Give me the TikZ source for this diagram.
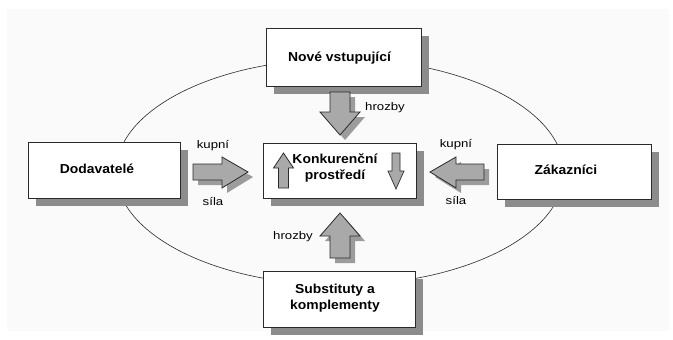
\documentclass[tikz,border=0pt]{standalone}
\usepackage{fontspec}
\setmainfont{Liberation Sans}
\definecolor{bgc}{HTML}{FAFAFA}
\definecolor{shadowc}{HTML}{8C8C8C}
\definecolor{arrowc}{HTML}{A9A9A9}
\definecolor{arrowsh}{HTML}{9C9C9C}
\definecolor{linec}{HTML}{2A2A2A}
\newcommand{\bxtext}[1]{\scalebox{1.07}[1]{#1}}
\newcommand{\smtext}[1]{\scalebox{1.2}[1]{#1}}
\begin{document}
\begin{tikzpicture}[x=1pt,y=-1pt,
  box/.style={draw=linec, line width=0.9pt, fill=white, inner sep=0pt,
    preaction={fill=shadowc, transform canvas={shift={(8pt,-8pt)}}}},
  boxtext/.style={inner sep=0pt, align=center, font=\fontsize{13}{16}\selectfont\bfseries},
  smlabel/.style={inner sep=0pt, font=\fontsize{11}{13}\selectfont},
  blockarrow/.style={draw=linec, line width=0.8pt, fill=arrowc, line join=miter,
    preaction={fill=arrowsh, transform canvas={shift={(5pt,-5pt)}}}},
  innerarrow/.style={draw=linec, line width=0.7pt, fill=arrowc, line join=miter},
  ring/.style={draw=linec, line width=0.6pt}
]
\useasboundingbox (0,0) rectangle (673,340);
\fill[bgc] (7,9) rectangle (669,331);

% ellipse behind everything
\draw[ring] (340,172) ellipse [x radius=224, y radius=113];

% boxes
\node[box, minimum width=155pt, minimum height=58pt] (top) at (343.5,57) {};
\node[box, minimum width=152pt, minimum height=56pt] (left) at (104,170) {};
\node[box, minimum width=153pt, minimum height=55pt] (center) at (339.5,170.5) {};
\node[box, minimum width=154pt, minimum height=55pt] (right) at (574,171.5) {};
\node[box, minimum width=152pt, minimum height=56pt] (bottom) at (339,299) {};

% box texts
\node[boxtext] (ttop) at (339.5,58) {\bxtext{Nové vstupující}};
\node[boxtext] (tleft) at (97,169) {\bxtext{Dodavatelé}};
\node[boxtext] (tright) at (566,170) {\bxtext{Zákazníci}};
\node[boxtext] (tcenter) at (335,168) {\bxtext{Konkurenční}\\\bxtext{prostředí}};
\node[boxtext] (tbottom) at (335,298) {\bxtext{Substituty a}\\\bxtext{komplementy}};

% block arrows
\draw[blockarrow] (330,92) -- (350,92) -- (350,112) -- (360,112) -- (340,135) -- (320,112) -- (330,112) -- cycle;
\draw[blockarrow] (330,258) -- (350,258) -- (350,236) -- (360,236) -- (340,213) -- (320,236) -- (330,236) -- cycle;
\draw[blockarrow] (193,164) -- (222,164) -- (222,157) -- (248,172) -- (222,188) -- (222,180) -- (193,180) -- cycle;
\draw[blockarrow] (484,164) -- (456,164) -- (456,157) -- (430,172) -- (456,188) -- (456,180) -- (484,180) -- cycle;

% arrows inside the centre box
\draw[innerarrow] (278.5,188) -- (288.5,188) -- (288.5,168) -- (293.5,168) -- (283.5,153) -- (273.5,168) -- (278.5,168) -- cycle;
\draw[innerarrow] (392,153) -- (400,153) -- (400,171) -- (404,171) -- (396,189) -- (388,171) -- (392,171) -- cycle;

% small labels
\node[smlabel] (h1) at (385,108) {\smtext{hrozby}};
\node[smlabel] (h2) at (293,237) {\smtext{hrozby}};
\node[smlabel] (k1) at (213,146) {\smtext{kupní}};
\node[smlabel] (s1) at (213,202) {\smtext{síla}};
\node[smlabel] (k2) at (456,145) {\smtext{kupní}};
\node[smlabel] (s2) at (456,201) {\smtext{síla}};
\end{tikzpicture}
\end{document}
